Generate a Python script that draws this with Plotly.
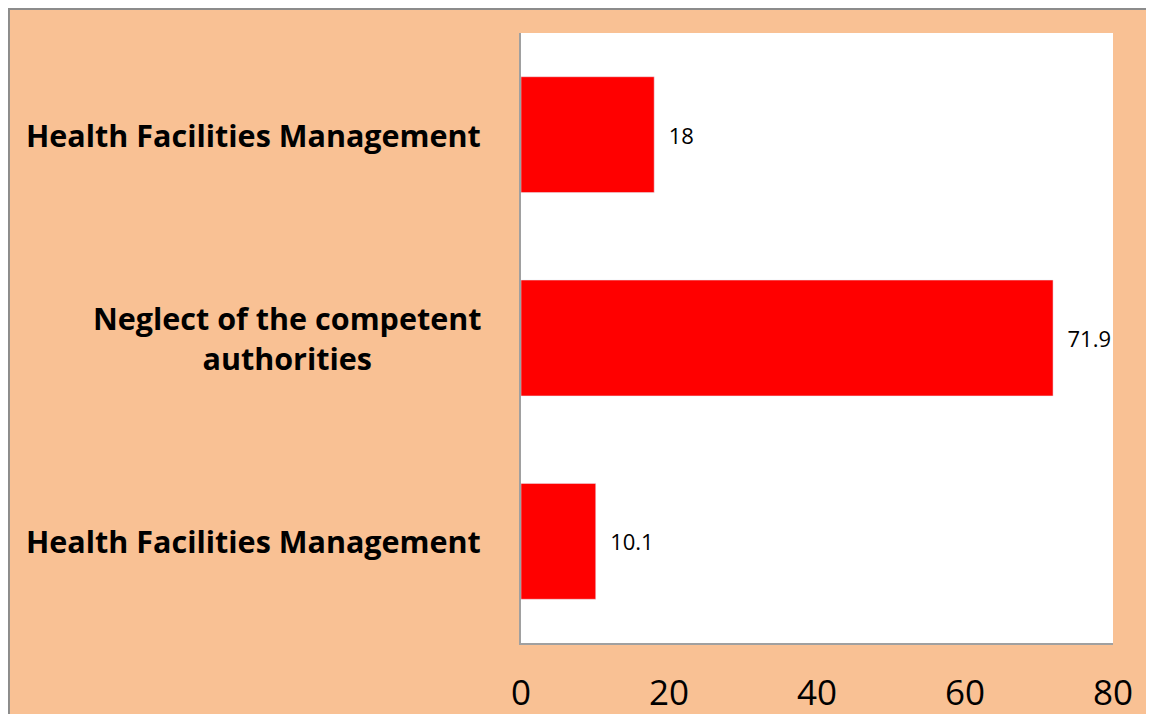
import plotly.graph_objects as go

# categories from bottom to top, as drawn
labels = ["Health Facilities Management",
          "Neglect of the competent<br>authorities",
          "Health Facilities Management"]
values = [10.1, 71.9, 18]
positions = [0, 1, 2]
x_ticks = [0, 20, 40, 60, 80]

PEACH = "#F9C194"

fig = go.Figure()
fig.add_trace(go.Bar(
    x=values, y=positions, orientation="h",
    marker_color="#FF0000", width=0.57,
    text=values, texttemplate="  %{x}", textposition="outside",
    textfont=dict(size=22, color="black", family="Open Sans"),
    cliponaxis=False,
))

# category labels, centred like the original
for p, lab in zip(positions, labels):
    fig.add_annotation(x=0, xref="paper", y=p, yref="y", text="<b>" + lab + "</b>",
                       xanchor="right", xshift=-38, align="center", showarrow=False,
                       font=dict(size=30.5, family="Open Sans", color="black"))

# frame lines on the left/top edge of the figure
fig.add_shape(type="line", xref="paper", yref="paper", x0=-0.8666, x1=1.06, y0=1.041, y1=1.041,
              line=dict(color="#8C8C8C", width=4))
fig.add_shape(type="line", xref="paper", yref="paper", x0=-0.8666, x1=-0.8666, y0=1.041, y1=-0.2,
              line=dict(color="#8C8C8C", width=4))

fig.update_layout(
    width=1138, height=706,
    paper_bgcolor=PEACH, plot_bgcolor="white",
    margin=dict(l=513, r=33, t=25, b=71),
    showlegend=False,
    xaxis=dict(range=[0, 80], tickvals=x_ticks, showgrid=False, zeroline=False,
               showline=True, linecolor="#A0A0A0", linewidth=2, automargin=False,
               ticks="", ticklabelstandoff=18,
               tickfont=dict(size=35, family="Open Sans", color="black")),
    yaxis=dict(range=[-0.5, 2.5], showticklabels=False, showgrid=False, zeroline=False,
               showline=True, linecolor="#A0A0A0", linewidth=2, ticks="", automargin=False),
)

fig.write_html("out.html")
